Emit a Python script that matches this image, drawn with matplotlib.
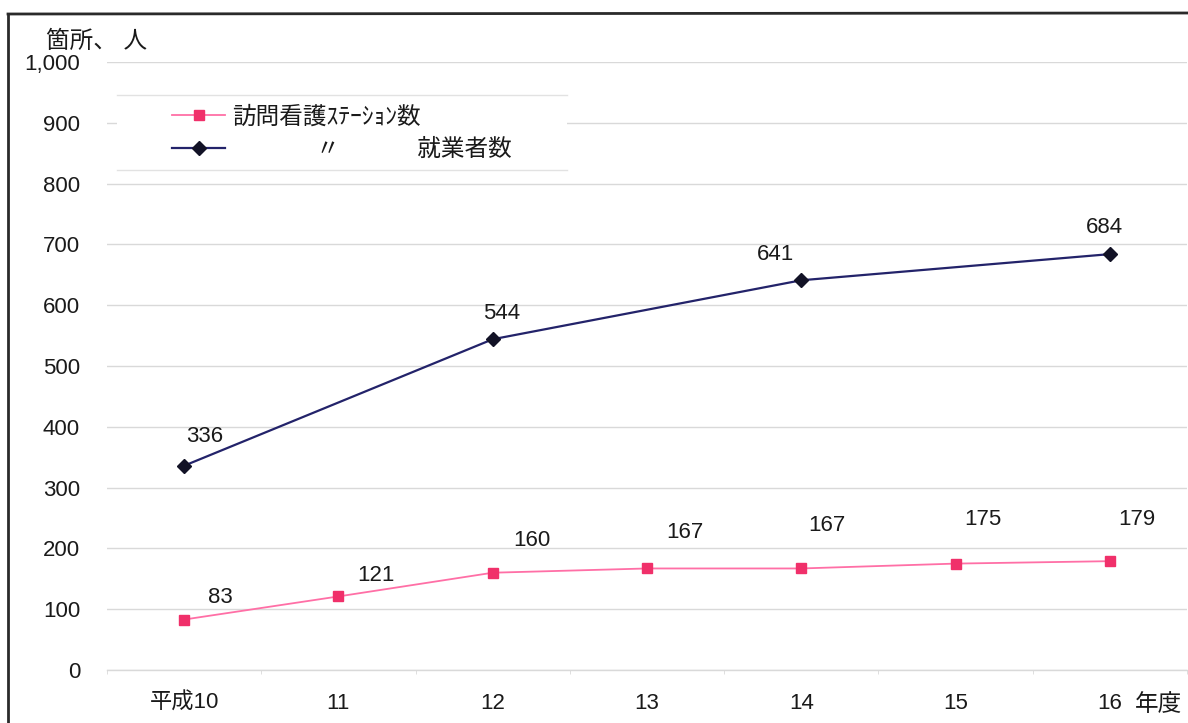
import matplotlib
matplotlib.use("Agg")
import matplotlib.pyplot as plt
from matplotlib.lines import Line2D
from matplotlib.patches import Rectangle
from matplotlib.ticker import FuncFormatter

# --- data -------------------------------------------------------------
years = ["平成10", "11", "12", "13", "14", "15", "16"]
station_counts = [83, 121, 160, 167, 167, 175, 179]
worker_years = ["平成10", "12", "14", "16"]
worker_counts = [336, 544, 641, 684]

station_label = "訪問看護ｽﾃｰｼｮﾝ数"
worker_label = "\u3000\u3000\u3000  〃\u3000\u3000\u3000 就業者数"
y_unit = "箇所、 人"
x_unit = "年度"

# --- style ------------------------------------------------------------
FONT = ["Liberation Sans", "Noto Sans CJK JP", "DejaVu Sans"]
plt.rcParams["font.family"] = FONT
TXT = "#1a1a1a"
PINK_LINE = "#ff6fa6"
PINK_MARK = "#f0306a"
NAVY_LINE = "#23236a"
NAVY_MARK = "#121226"
GRID = "#d9d9d9"

W, H = 1188, 723
PX = 72 / 100  # points per pixel at 100 dpi
fig = plt.figure(figsize=(W / 100, H / 100), dpi=100)

x0, x1 = 107, 1187
y_zero, y_top = 670, 62
ax = fig.add_axes([x0 / W, 1 - y_zero / H, (x1 - x0) / W, (y_zero - y_top) / H])

xpos = {name: i for i, name in enumerate(years)}
xs = [xpos[n] for n in years]
wx = [xpos[n] for n in worker_years]

station_style = dict(color=PINK_LINE, lw=1.3, marker="s", ms=7,
                     mfc=PINK_MARK, mec=PINK_MARK)
worker_style = dict(color=NAVY_LINE, lw=1.6, marker="D", ms=7,
                    mfc=NAVY_MARK, mec=NAVY_MARK)

ax.plot(xs, station_counts, zorder=4, **station_style)
ax.plot(wx, worker_counts, zorder=4, **worker_style)

ax.set_xlim(-0.5, len(years) - 0.5)
ax.set_ylim(0, 1000)
ax.set_yticks(range(0, 1001, 100))
ax.yaxis.set_major_formatter(FuncFormatter(lambda v, p: f"{int(v):,}"))
ax.set_xticks(xs)
ax.set_xticklabels(years)
ax.set_xticks([i - 0.5 for i in range(len(years) + 1)], minor=True)

ax.grid(axis="y", color=GRID, lw=1.0)
ax.set_axisbelow(True)
for s in ["top", "right", "left"]:
    ax.spines[s].set_visible(False)
ax.spines["bottom"].set_color(GRID)
ax.spines["bottom"].set_linewidth(1.0)
ax.tick_params(axis="y", length=0, pad=27 * PX, labelsize=16, labelcolor=TXT)
ax.tick_params(axis="x", which="major", length=0, pad=23 * PX, labelsize=16,
               labelcolor=TXT)
ax.tick_params(axis="x", which="minor", length=3, color=GRID, direction="out")

# value labels
station_offsets = [(36, 22), (38, 21), (39, 32), (38, 36), (26, 43), (27, 44), (27, 42)]
for x, v, (dx, dy) in zip(xs, station_counts, station_offsets):
    ax.annotate(f"{v}", (x, v), xytext=(dx, dy), textcoords="offset pixels",
                ha="center", va="center", fontsize=16, color=TXT)

worker_offsets = [(21, 29), (9, 26), (-26, 26), (-5, 27)]
for x, v, (dx, dy) in zip(wx, worker_counts, worker_offsets):
    ax.annotate(f"{v}", (x, v), xytext=(dx, dy), textcoords="offset pixels",
                ha="center", va="center", fontsize=16, color=TXT)

# legend: white panel with faint top/bottom rules, entries on top
def fig_x(px):
    return px / W


def fig_y(py):
    return 1 - py / H


panel = Rectangle((fig_x(117), fig_y(170)), fig_x(567) - fig_x(117),
                  fig_y(95) - fig_y(170), transform=fig.transFigure,
                  facecolor="white", edgecolor="none", zorder=5)
fig.add_artist(panel)
for py in (95, 170):
    fig.add_artist(Line2D([fig_x(117), fig_x(567)], [fig_y(py), fig_y(py)],
                          color="#e2e2e2", lw=1.0, transform=fig.transFigure,
                          zorder=6))

handles = [Line2D([], [], **station_style), Line2D([], [], **worker_style)]
leg = fig.legend(handles, [station_label, worker_label], loc="center left",
                 bbox_to_anchor=(fig_x(172), fig_y(133.5)),
                 bbox_transform=fig.transFigure,
                 borderaxespad=0, borderpad=0, frameon=False, fontsize=17,
                 handlelength=2.25, handletextpad=0.3, labelspacing=0.45)
leg.set_zorder(7)
for t in leg.get_texts():
    t.set_color(TXT)

# axis unit captions
fig.text(fig_x(46), fig_y(42), y_unit, fontsize=17, color=TXT, ha="left", va="center")
fig.text(fig_x(1135), fig_y(705), x_unit, fontsize=17, color=TXT, ha="left", va="center")

# outer frame
fig.add_artist(Line2D([fig_x(8), fig_x(8)], [0, fig_y(14)], color="#2a2a2a", lw=2,
                      transform=fig.transFigure))
fig.add_artist(Line2D([fig_x(8), 1], [fig_y(14), fig_y(13)], color="#2a2a2a", lw=2,
                      transform=fig.transFigure))

fig.savefig("out.png", dpi=100, facecolor="white")
